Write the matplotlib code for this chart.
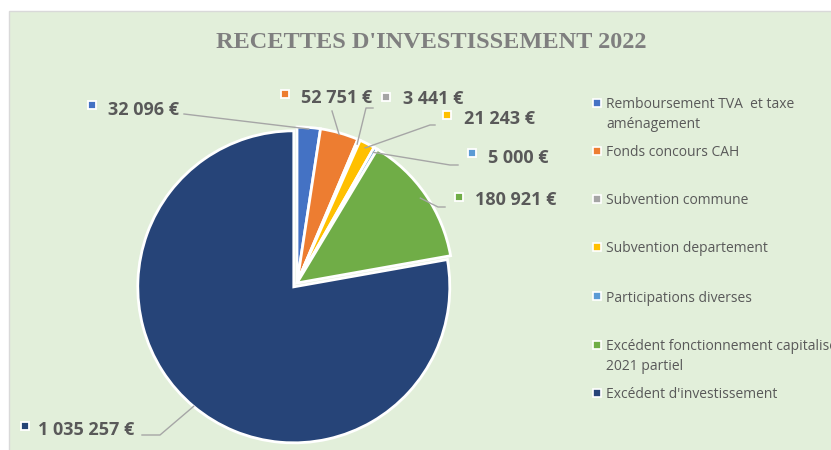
import numpy as np
import matplotlib.pyplot as plt
from matplotlib.patches import Rectangle

W, H = 831, 450

title = "RECETTES D'INVESTISSEMENT 2022"
categories = ['Remboursement TVA  et taxe\naménagement',
              'Fonds concours CAH',
              'Subvention commune',
              'Subvention departement',
              'Participations diverses',
              'Excédent fonctionnement capitalisé\n2021 partiel',
              "Excédent d'investissement"]
values = [32096, 52751, 3441, 21243, 5000, 180921, 1035257]
value_labels = ['32 096 €', '52 751 €', '3 441 €', '21 243 €', '5 000 €',
                '180 921 €', '1 035 257 €']
colors = ['#4472C4', '#ED7D31', '#A5A5A5', '#FFC000', '#5B9BD5',
          '#70AD47', '#264478']

# layout (pixel coords, y from top)
center = (297, 283)
radius = 156
lab_text = [(108, 110), (301, 98), (403, 99), (464, 119), (488, 158),
            (475, 200), (38, 430)]
lab_mark = [(92, 105), (285, 94), (386, 97), (447, 115), (472, 153),
            (459, 197), (25, 426)]
lab_line = [[(184, 114)], [(332, 111)], [(373, 108), (366, 108)],
            [(435, 125), (430, 125)], [(458, 165), (450, 165)],
            [(445, 207), (438, 207)], [(142, 435), (160, 435)]]
anchor_r = [0.99, 0.99, 0.97, 0.97, 0.97, 0.96, 1.0]
legend_y = [103, 151, 199, 247, 296, 345, 393]
FONT = 'Open Sans'


def py(y):
    return H - y


fig = plt.figure(figsize=(W / 100, H / 100), dpi=100)
fig.patch.set_facecolor('white')
ax = fig.add_axes([0, 0, 1, 1])

ax.add_patch(Rectangle((9, -5), W, py(11) + 5, facecolor='#E2EFDA',
                       edgecolor='#D9D9D9', lw=1, zorder=0))

explode = [0, 0, 0, 0, 0, 0, 5]
wedges, _ = ax.pie(values, colors=colors, startangle=90, counterclock=False,
                   center=(center[0], py(center[1])), radius=radius,
                   explode=explode,
                   wedgeprops=dict(edgecolor='white', linewidth=2))
for w in wedges:
    w.set_zorder(2)

ax.set_xlim(0, W)
ax.set_ylim(0, H)
ax.axis('off')

ax.text(431, py(43), title, ha='center', va='center', fontsize=17.5,
        fontweight='bold', color='#7F7F7F', family='Liberation Serif')

# data labels with leader lines
for i, w in enumerate(wedges):
    th = np.deg2rad((w.theta1 + w.theta2) / 2)
    cx, cy = w.center
    ax_pt = (cx + anchor_r[i] * radius * np.cos(th),
             cy + anchor_r[i] * radius * np.sin(th))
    pts = [(x, py(y)) for x, y in lab_line[i]] + [ax_pt]
    xs, ys = zip(*pts)
    ax.plot(xs, ys, color='#A6A6A6', lw=1, zorder=3)
    mx, my = lab_mark[i]
    ax.plot(mx, py(my), marker='s', ms=6, color=colors[i],
            mec='white', mew=1.3, zorder=4)
    tx, ty = lab_text[i]
    ax.text(tx, py(ty), value_labels[i], ha='left', va='center',
            fontsize=13, fontweight='bold', color='#595959', family=FONT)

# legend (text on the right is cut by the edge, as in the original)
for i, lab in enumerate(categories):
    y = legend_y[i]
    ax.plot(597, py(y), marker='s', ms=5.5, color=colors[i],
            mec='white', mew=1.2, zorder=4)
    for k, line in enumerate(lab.split('\n')):
        ax.text(606, py(y + 19 * k), line, ha='left', va='center_baseline',
                fontsize=10, color='#595959', family=FONT)

fig.savefig('out.png', dpi=100)
